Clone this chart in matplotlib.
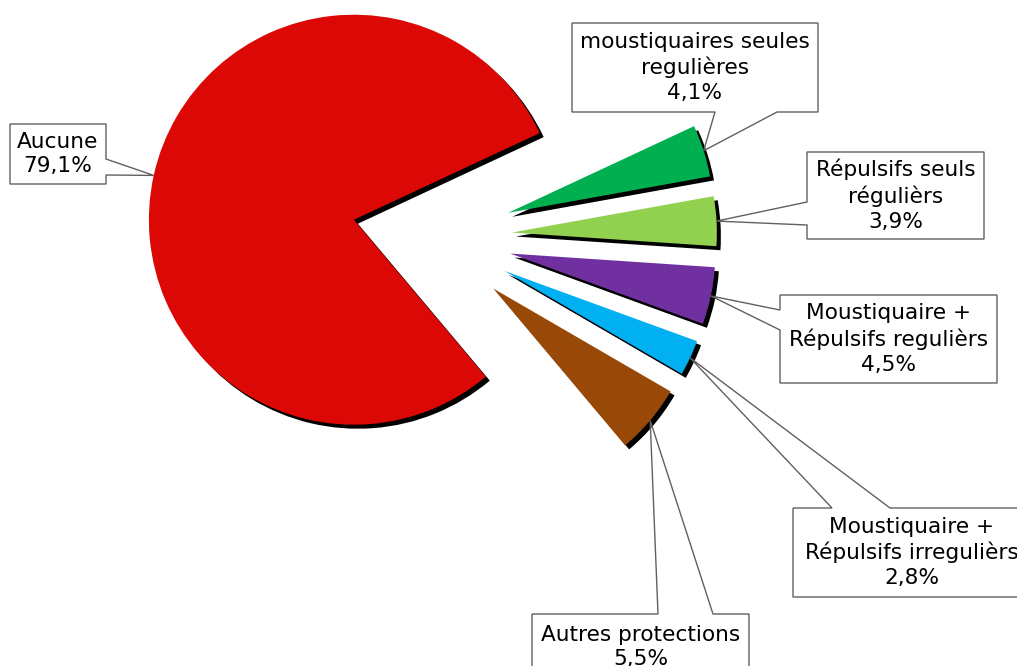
import numpy as np
import matplotlib
matplotlib.use("Agg")
import matplotlib.pyplot as plt
from matplotlib.patches import Rectangle, Polygon

# données
categories = ['moustiquaires seules\nregulières', 'Répulsifs seuls\nrégulièrs',
              'Moustiquaire +\nRépulsifs regulièrs', 'Moustiquaire +\nRépulsifs irregulièrs',
              'Autres protections', 'Aucune']
values = [4.1, 3.9, 4.5, 2.8, 5.5, 79.1]
colors = ['#00B050', '#92D050', '#7030A0', '#00B0F0', '#984807', '#DC0805']

H = 666  # hauteur image, on travaille en pixels

# boites des etiquettes (gauche, haut, droite, bas) en pixels image + base du pointeur
boxes = [
    ((572, 23, 818, 112), ((715, 112), (777, 112))),
    ((807, 152, 984, 239), ((807, 202), (807, 225))),
    ((780, 295, 997, 383), ((780, 310), (780, 330))),
    ((793, 508, 1030, 597), ((832, 508), (890, 508))),
    ((532, 614, 749, 680), ((658, 614), (713, 614))),
    ((10, 124, 106, 184), ((106, 159), (106, 175))),
]


def callout_outline(box, base, tip):
    # contour de la boite avec le pointeur insere sur le bon cote
    x0, y0, x1, y1 = box
    tl, tr, br, bl = (x0, y0), (x1, y0), (x1, y1), (x0, y1)
    b = list(base)
    if b[0][1] == y0:
        b.sort(key=lambda p: p[0])
        pts = [tl, b[0], tip, b[1], tr, br, bl]
    elif b[0][0] == x1:
        b.sort(key=lambda p: p[1])
        pts = [tl, tr, b[0], tip, b[1], br, bl]
    elif b[0][1] == y1:
        b.sort(key=lambda p: -p[0])
        pts = [tl, tr, br, b[0], tip, b[1], bl]
    else:
        b.sort(key=lambda p: -p[1])
        pts = [tl, tr, br, bl, b[0], tip, b[1]]
    return np.array(pts, dtype=float)


fig = plt.figure(figsize=(10.17, 6.66), dpi=100)
ax = fig.add_axes([0, 0, 1, 1])

center = (432, H - 237)
radius = 205
explode = [80] * len(values)

# ombre noire
ax.pie(values, colors=['black'] * len(values), startangle=25, counterclock=False,
       center=(center[0] + 4, center[1] - 4), radius=radius, explode=explode,
       wedgeprops=dict(linewidth=0))
wedges, _ = ax.pie(values, colors=colors, startangle=25, counterclock=False,
                   center=center, radius=radius, explode=explode,
                   wedgeprops=dict(linewidth=0))

for w, cat, v, (box, base) in zip(wedges, categories, values, boxes):
    tm = np.deg2rad((w.theta1 + w.theta2) / 2)
    px = w.center[0] + w.r * np.cos(tm)
    py = H - (w.center[1] + w.r * np.sin(tm))   # en pixels image
    x0, y0, x1, y1 = box
    ax.add_patch(Rectangle((x0, H - y1), x1 - x0, y1 - y0, facecolor='white',
                           edgecolor='none', zorder=5))
    pts = callout_outline(box, base, (px, py))
    pts[:, 1] = H - pts[:, 1]
    ax.add_patch(Polygon(pts, closed=True, fill=False, edgecolor='#606060',
                         linewidth=1.0, joinstyle='miter', zorder=6))
    txt = cat + '\n' + f"{v:.1f}".replace('.', ',') + '%'
    ax.text((x0 + x1) / 2, H - (y0 + y1) / 2, txt, ha='center', va='center',
            fontsize=15.6, linespacing=1.3, family='DejaVu Sans', zorder=7)

ax.set_xlim(0, 1017)
ax.set_ylim(0, H)
ax.set_aspect('equal')
ax.axis('off')

fig.savefig('out.png', dpi=100)
